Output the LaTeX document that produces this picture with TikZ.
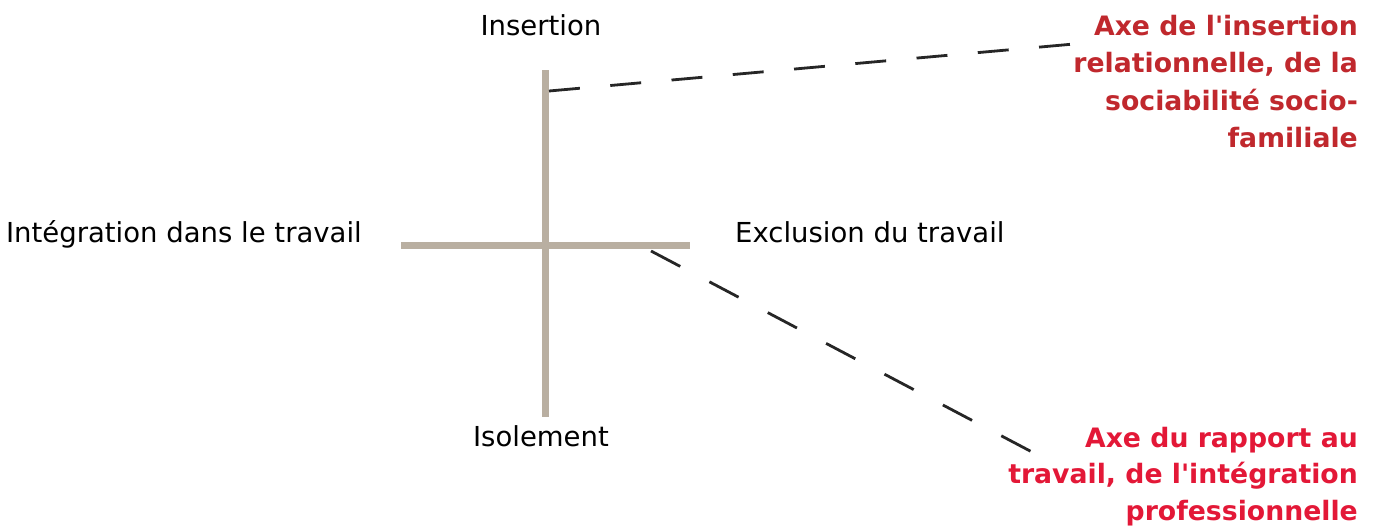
\documentclass[tikz,border=0pt]{standalone}
\usepackage{fontspec}
\setmainfont{DejaVu Sans}
\definecolor{axisgray}{HTML}{B9AFA1}
\definecolor{redA}{HTML}{C0282D}
\definecolor{redB}{HTML}{E31837}
\newcommand{\apos}{\textquotesingle}
\begin{document}
\begin{tikzpicture}[x=1pt,y=-1pt,
  axis/.style={draw=axisgray,line width=7pt},
  leader/.style={draw=black!85,line width=2.8pt},
  pole/.style={font=\fontsize{27.5}{33}\selectfont,inner sep=0pt,text=black},
  axelabel/.style={font=\fontsize{26.7}{37.5}\selectfont\bfseries,align=right,inner sep=0pt,anchor=north east}]
\useasboundingbox (0,0) rectangle (1376,525);
% the two axes
\coordinate (vtop) at (545,70);
\coordinate (vbot) at (545,417);
\coordinate (hleft) at (401,245);
\coordinate (hright) at (690,245);
\draw[axis] (vtop) -- (vbot);
\draw[axis] (hleft) -- (hright);
% poles
\node[pole,anchor=base] (ins) at (541,35) {Insertion};
\node[pole,anchor=base] (iso) at (541,446) {Isolement};
\node[pole,anchor=base east] (integ) at (362,242) {Intégration dans le travail};
\node[pole,anchor=base west] (excl) at (735,242) {Exclusion du travail};
% axis descriptions
\node[axelabel,text=redA] (relat) at (1358,15) {Axe de l\apos insertion\\relationnelle, de la\\sociabilité socio-\\familiale};
\node[axelabel,text=redB,font=\fontsize{26.7}{36.5}\selectfont\bfseries] (trav) at (1358,427) {Axe du rapport au\\travail, de l\apos intégration\\professionnelle};
% leaders
\coordinate (l1a) at (549,91);
\coordinate (l1b) at (1074,44);
\coordinate (l2a) at (651,251);
\coordinate (l2b) at (1032,452);
\draw[leader,dash pattern=on 31pt off 30.5pt] (l1a) -- (l1b);
\draw[leader,dash pattern=on 33pt off 33pt] (l2a) -- (l2b);
\end{tikzpicture}
\end{document}
